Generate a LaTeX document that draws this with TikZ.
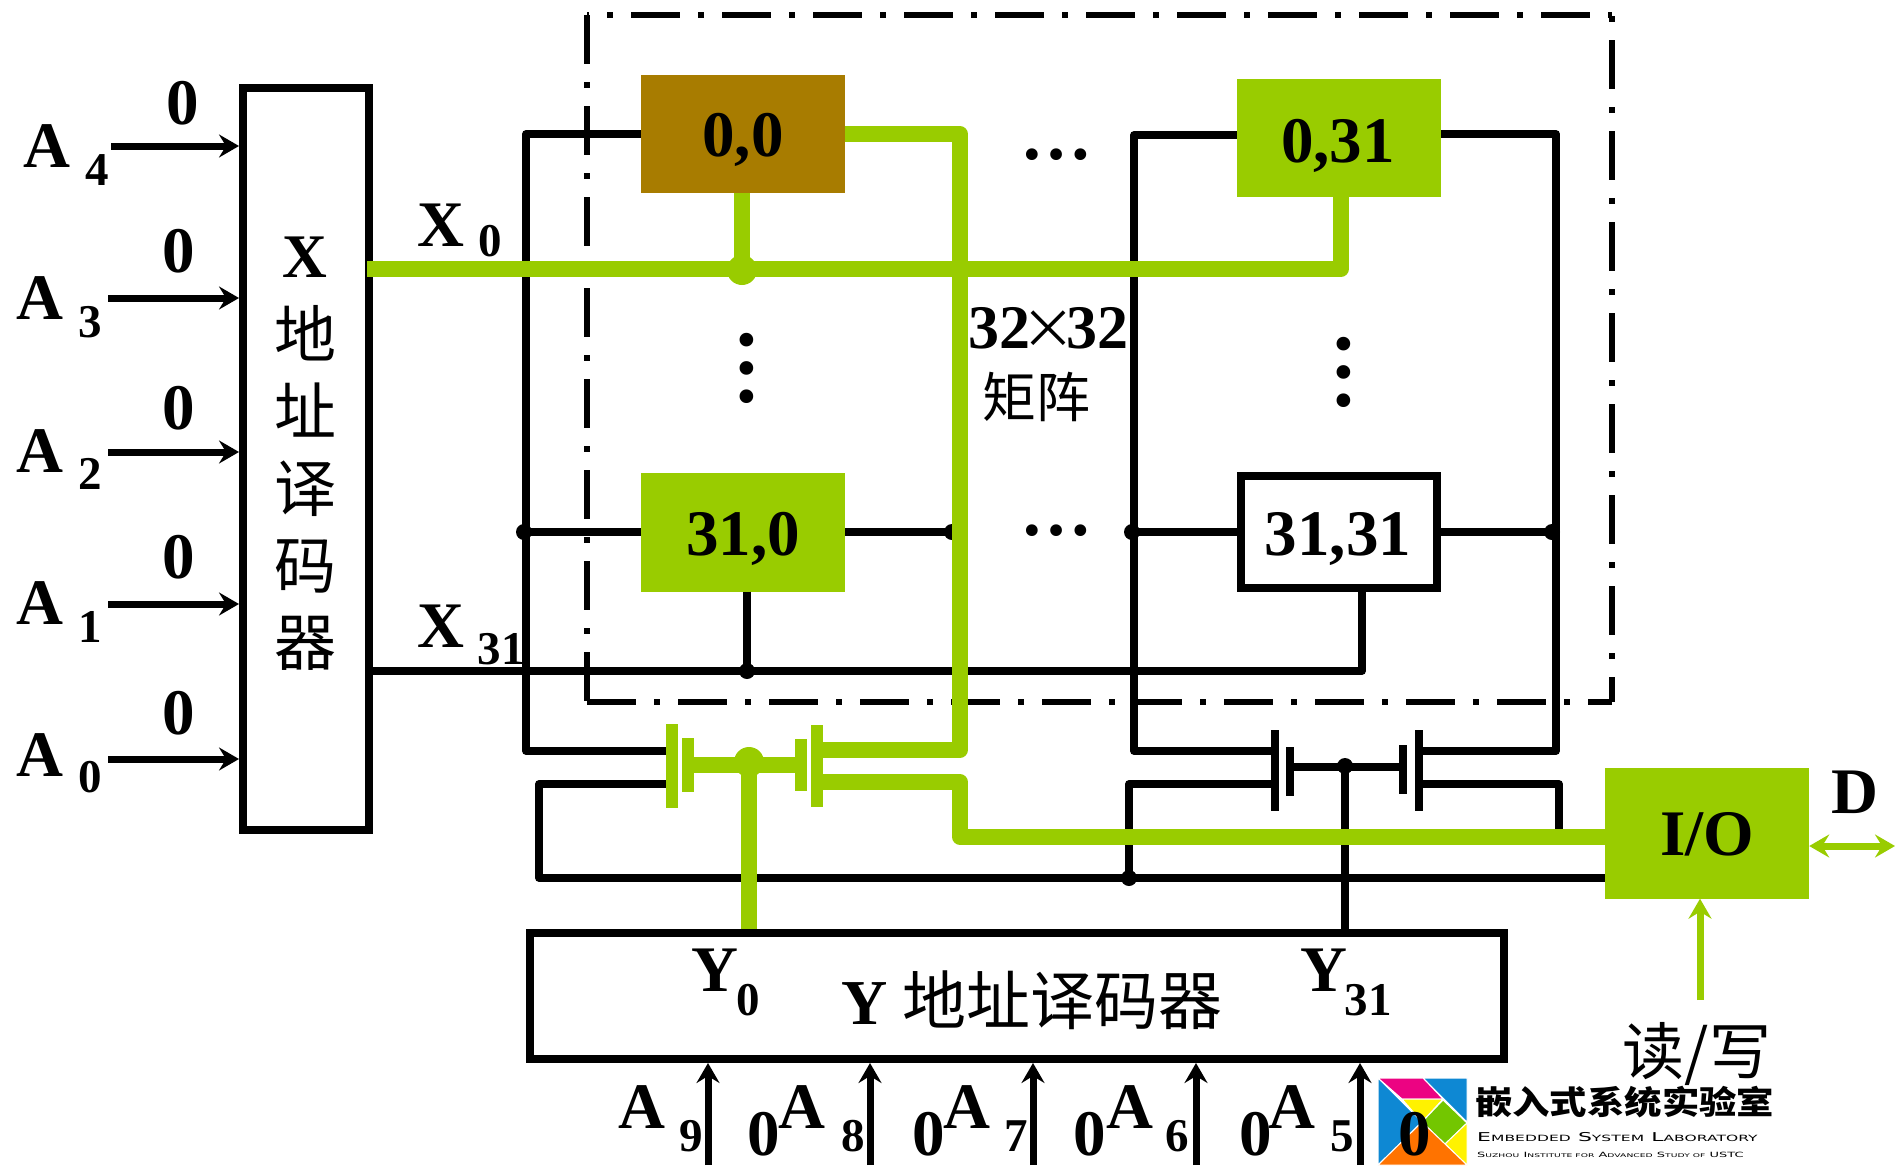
\documentclass[tikz,border=0pt]{standalone}
\usepackage{fontspec}
\setmainfont{Liberation Serif}
\newfontfamily\cjk{Noto Sans CJK SC}
\newfontfamily\logocjk[FakeStretch=1.15]{Noto Sans CJK SC}
\newfontfamily\logofont[FakeStretch=1.8,LetterSpace=1]{DejaVu Sans}
\usetikzlibrary{arrows.meta}
\definecolor{leaf}{HTML}{99CC00}
\definecolor{ochre}{HTML}{A87C00}
\newcommand{\lc}[1]{{\fontsize{8.6}{9}\selectfont #1}}
\newcommand{\lcs}[1]{{\fontsize{5.1}{6}\selectfont #1}}

\begin{document}
\begin{tikzpicture}[
    x=1pt,
    y=-1pt,
    lab/.style={inner sep=0pt, font=\fontsize{65}{65}\selectfont\bfseries},
    sub/.style={inner sep=0pt, font=\fontsize{47}{47}\selectfont\bfseries},
    han/.style={inner sep=0pt, font=\fontsize{62}{62}\selectfont\cjk},
    frame/.style={line width=6pt, dash pattern=on 49pt off 18pt on 6pt off 18pt},
    box/.style={draw=black, line width=8pt, fill=white, inner sep=0pt},
    cell/.style={fill=leaf, inner sep=0pt},
    wire/.style={draw=black, line width=7.5pt, line join=round},
    gwire/.style={draw=leaf, line width=15.5pt, line join=round},
    inarrow/.style={draw=black, line width=7pt, -{Stealth[length=20pt,width=23pt,inset=7pt]}},
    garrow/.style={draw=leaf, line width=7pt, -{Stealth[length=20pt,width=23pt,inset=7pt]}},
    gbar/.style={inner sep=0pt, minimum width=12pt, fill=leaf},
    kbar/.style={inner sep=0pt, minimum width=8pt, fill=black},
    dot/.style={circle, fill=black, inner sep=0pt, minimum size=16pt},
    gdot/.style={circle, fill=leaf, inner sep=0pt, minimum size=30pt}
]
\useasboundingbox (0,0) rectangle (1895,1165);

% Matrix frame
\coordinate (ftl) at (587,15);
\coordinate (ftr) at (1612,15);
\coordinate (fbl) at (587,702);
\coordinate (fbr) at (1612,702);
\draw[frame, dash phase=47pt] (ftl) -- (ftr);
\draw[frame] (ftl) -- (fbl);
\draw[frame] (fbl) -- (fbr);
\draw[frame, dash phase=66pt] (ftr) -- (fbr);

% Nodes
\node[box, minimum width=126pt, minimum height=742pt] (xdec) at (306,459) {};
\node[box, minimum width=974pt, minimum height=126pt] (ydec) at (1017,996) {};
\node[cell, fill=ochre, minimum width=204pt, minimum height=118pt] (c00) at (743,134) {};
\node[cell, minimum width=204pt, minimum height=118pt] (c031) at (1339,138) {};
\node[cell, minimum width=204pt, minimum height=119pt] (c310) at (743,532) {};
\node[box, minimum width=196pt, minimum height=112pt] (c3131) at (1339,532) {};
\node[cell, minimum width=204pt, minimum height=131pt] (io) at (1707,833) {};

% Transistors
\node[gbar, minimum height=84pt] (t0a) at (672,766) {};
\node[gbar, minimum height=54pt] (t0b) at (688,765) {};
\node[gbar, minimum height=52pt] (t0c) at (801,765) {};
\node[gbar, minimum height=82pt] (t0d) at (817,766) {};
\node[kbar, minimum height=81pt] (t1a) at (1275,770) {};
\node[kbar, minimum height=49pt] (t1b) at (1290,771) {};
\node[kbar, minimum height=49pt] (t1c) at (1403,769) {};
\node[kbar, minimum height=81pt] (t1d) at (1419,770) {};

% Black wires
\coordinate (lt) at (526,134);
\coordinate (lb) at (526,751);
\coordinate (rt) at (1556,134);
\coordinate (rb) at (1556,751);
\coordinate (mt) at (1134,135);
\coordinate (mb) at (1134,751);
\draw[wire] (c00.west) -- (lt) -- (lb) -- (t0a.west |- lb);
\draw[wire] (t0a.west |- 0,784) -| (539,878) -- (io.west |- 0,878);
\draw[wire] (c310.west) -- (526,532);
\draw[wire] (c310.east) -- (952,532);
\draw[wire] (xdec.east |- 0,671) -- (1362,671) -- (c3131.south -| 1362,0);
\draw[wire] (c310.south -| 747,0) -- (747,671);
\draw[wire] (c031.west |- mt) -- (mt) -- (mb) -- (t1a.east |- mb);
\draw[wire] (c031.east |- rt) -- (rt) -- (rb) -- (t1d.east |- rb);
\draw[wire] (t1a.west |- 0,784) -| (1129,878);
\draw[wire] (t1d.east |- 0,784) -| (1559,845);
\draw[wire] (1134,532) -- (c3131.west);
\draw[wire] (c3131.east) -- (1552,532);
\draw[wire] (t1b.east |- 0,767) -- (t1c.west |- 0,767);
\draw[wire] (1345,766) -- (1345,931);
\node[dot] (d1) at (524,532) {};
\node[dot] (d2) at (952,532) {};
\node[dot] (d3) at (1132,532) {};
\node[dot] (d4) at (1552,532) {};
\node[dot] (d5) at (747,671) {};
\node[dot] (d6) at (1129,878) {};
\node[dot] (d7) at (1345,766) {};

% Green wires
\draw[gwire] ([xshift=-6pt]xdec.east |- 0,269) -- (1341,269) -- (1341,197);
\draw[gwire] (742,193) -- (742,269);
\node[gdot] (d8) at (742,270) {};
\draw[gwire] (c00.east) -- (960,134) -- (960,750) -- (t0d.east |- 0,750);
\draw[gwire] (t0d.east |- 0,782) -- (960,782) -- (960,837) -- (io.west |- 0,837);
\draw[gwire] (t0b.east) -- (t0c.west);
\draw[gwire] (749,766) -- (749,929);
\node[gdot] (d9) at (749,762) {};

% Arrows
\coordinate (ia4) at (111,146);
\coordinate (ia3) at (108,298);
\coordinate (ia2) at (108,452);
\coordinate (ia1) at (108,604);
\coordinate (ia0) at (108,759);
\draw[inarrow] (ia4) -- (xdec.west |- ia4);
\draw[inarrow] (ia3) -- (xdec.west |- ia3);
\draw[inarrow] (ia2) -- (xdec.west |- ia2);
\draw[inarrow] (ia1) -- (xdec.west |- ia1);
\draw[inarrow] (ia0) -- (xdec.west |- ia0);
\coordinate (ib9) at (708,1165);
\coordinate (ib8) at (870,1165);
\coordinate (ib7) at (1033,1165);
\coordinate (ib6) at (1196,1165);
\coordinate (ib5) at (1360,1165);
\draw[inarrow] (ib9) -- (ib9 |- ydec.south);
\draw[inarrow] (ib8) -- (ib8 |- ydec.south);
\draw[inarrow] (ib7) -- (ib7 |- ydec.south);
\draw[inarrow] (ib6) -- (ib6 |- ydec.south);
\draw[inarrow] (ib5) -- (ib5 |- ydec.south);
\coordinate (rw) at (1700,1000);
\draw[garrow] (rw) -- (rw |- io.south);
\coordinate (dr) at (1895,846);
\draw[garrow, {Stealth[length=20pt,width=23pt,inset=7pt]}-{Stealth[length=20pt,width=23pt,inset=7pt]}] (io.east |- dr) -- (dr);

% Logo
\begin{scope}[draw=white, line width=1pt]
\filldraw[fill=cyan!70!blue] (1423,1078) -- (1467,1078) -- (1467,1122) -- cycle;
\filldraw[fill=cyan!70!blue] (1378,1078) -- (1422,1122) -- (1378,1165) -- cycle;
\filldraw[fill=magenta!90!red] (1378,1078) -- (1423,1078) -- (1443,1099) -- (1402,1099) -- cycle;
\filldraw[fill=yellow] (1402,1099) -- (1443,1099) -- (1422,1122) -- cycle;
\filldraw[fill=green!55!orange] (1443,1100) -- (1467,1123) -- (1445,1144) -- (1422,1122) -- cycle;
\filldraw[fill=yellow] (1467,1123) -- (1467,1165) -- (1445,1144) -- cycle;
\filldraw[fill=orange!90!red] (1422,1122) -- (1467,1165) -- (1378,1165) -- cycle;
\end{scope}
\node[inner sep=0pt, anchor=west, font=\fontsize{32.5}{33}\selectfont\logocjk\bfseries] (lg1) at (1475,1102) {嵌入式系统实验室};
\node[inner sep=0pt, anchor=west, font=\fontsize{12.2}{12}\selectfont\logofont] (lg2) at (1477,1137) {E\lc{MBEDDED} S\lc{YSTEM} L\lc{ABORATORY}};
\node[inner sep=0pt, anchor=west, font=\fontsize{7.2}{8}\selectfont\logofont] (lg3) at (1477,1155) {S\lcs{UZHOU} I\lcs{NSTITUTE FOR} A\lcs{DVANCED} S\lcs{TUDY OF} USTC};

% Labels
\node[lab] (la4) at (47,146) {A};
\node[sub] (sa4) at (97,170) {4};
\node[lab] (z4) at (183,103) {0};
\node[lab] (la3) at (40,298) {A};
\node[sub] (sa3) at (90,322) {3};
\node[lab] (z3) at (179,251) {0};
\node[lab] (la2) at (40,451) {A};
\node[sub] (sa2) at (90,474) {2};
\node[lab] (z2) at (179,408) {0};
\node[lab] (la1) at (40,603) {A};
\node[sub] (sa1) at (90,627) {1};
\node[lab] (z1) at (179,557) {0};
\node[lab] (la0) at (40,755) {A};
\node[sub] (sa0) at (90,777) {0};
\node[lab] (z0) at (179,713) {0};

\node[inner sep=0pt, align=center, font=\fontsize{62}{77}\selectfont\cjk] (xtext) at (305,454) {\bfseries\rmfamily X\\[3pt]地\\址\\译\\码\\器};
\node[lab] (lx0) at (441,225) {X};
\node[sub] (sx0) at (490,241) {0};
\node[lab] (lx31) at (441,626) {X};
\node[sub] (sx31) at (501,649) {31};

\node[lab] (t00) at (743,140) {0,0};
\node[lab] (t031) at (1338,146) {0,31};
\node[lab] (t310) at (743,539) {31,0};
\node[lab] (t3131) at (1338,539) {31,31};
\node[lab] (tio) at (1707,834) {I/O};
\node[lab] (ld) at (1855,792) {D};

\node[lab, font=\fontsize{72}{72}\selectfont\bfseries] (dt1) at (1056,155) {…};
\node[lab, font=\fontsize{72}{72}\selectfont\bfseries] (dt2) at (1056,531) {…};
\node[lab, font=\fontsize{84}{84}\selectfont\bfseries, rotate=90] (dt3) at (747,368) {…};
\node[lab, font=\fontsize{84}{84}\selectfont\bfseries, rotate=90] (dt4) at (1344,372) {…};

\node[lab, font=\fontsize{62}{62}\selectfont\bfseries] (size) at (1048,328) {32\kern-9pt{\cjk\mdseries\fontsize{54}{54}\selectfont ×}\kern-9pt32};
\node[han, font=\fontsize{54}{54}\selectfont\cjk] (mat) at (1036,397) {矩阵};
\node[han] (rwt) at (1697,1054) {读/写};

\node[lab] (ly0) at (715,970) {Y};
\node[sub] (sy0) at (748,1000) {0};
\node[lab] (ly31) at (1324,970) {Y};
\node[sub] (sy31) at (1368,1000) {31};
\node[han, font=\fontsize{64}{64}\selectfont\cjk] (ytext) at (1032,1000) {{\rmfamily\bfseries Y} 地址译码器};

\node[lab] (la9) at (642,1107) {A};
\node[sub] (sa9) at (691,1136) {9};
\node[lab] (z9) at (764,1134) {0};
\node[lab] (la8) at (802,1107) {A};
\node[sub] (sa8) at (853,1136) {8};
\node[lab] (z8) at (929,1134) {0};
\node[lab] (la7) at (967,1107) {A};
\node[sub] (sa7) at (1016,1136) {7};
\node[lab] (z7) at (1090,1134) {0};
\node[lab] (la6) at (1130,1107) {A};
\node[sub] (sa6) at (1177,1136) {6};
\node[lab] (z6) at (1256,1134) {0};
\node[lab] (la5) at (1292,1107) {A};
\node[sub] (sa5) at (1342,1136) {5};
\node[lab] (z5) at (1415,1134) {0};

\end{tikzpicture}
\end{document}
